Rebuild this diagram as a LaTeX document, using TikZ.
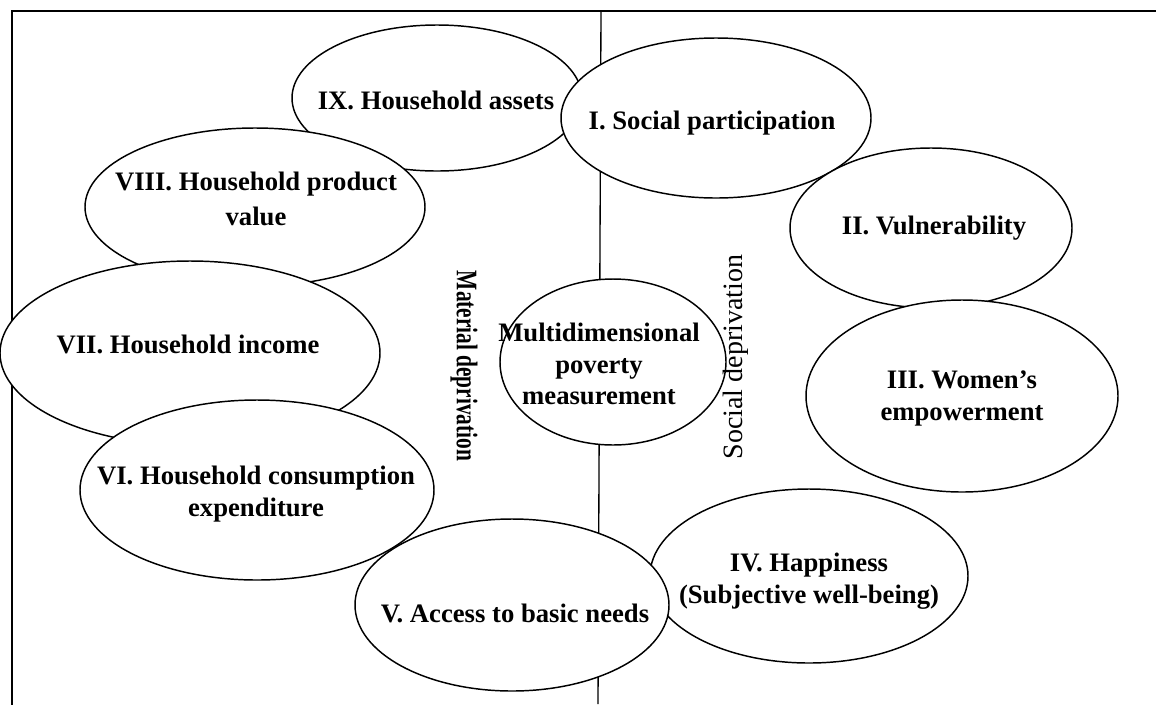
\documentclass[tikz,border=0pt]{standalone}
\usepackage{fontspec}
\setmainfont{Liberation Serif}
\usetikzlibrary{shapes.geometric}
\begin{document}
\begin{tikzpicture}[x=0.75pt,y=-0.75pt,
  dim/.style={ellipse, draw=black, line width=1.1pt, fill=white, inner sep=0pt},
  lbl/.style={align=center, inner sep=0pt, font=\fontsize{20}{24}\selectfont\bfseries},
  frameline/.style={line width=1.8pt, line cap=rect},
  divider/.style={line width=1pt}]
\useasboundingbox (0,0) rectangle (1156,704);

% outer frame (top and left edges)
\coordinate (tl) at (12,11);
\coordinate (tr) at (1156,11);
\coordinate (bl) at (12,704);
\draw[frameline] (tr) -- (tl) -- (bl);

% divider between material and social deprivation
\coordinate (dtop) at (601,11);
\coordinate (dbot) at (598,704);
\draw[divider] (dtop) -- (dbot);

% dimension ellipses, back to front
\node[dim, minimum width=217.5pt, minimum height=109.5pt] (ix) at (437,98) {};
\node[dim, minimum width=232.5pt, minimum height=120pt] (i) at (716,118) {};
\node[dim, minimum width=255pt, minimum height=118.5pt] (viii) at (255,207) {};
\node[dim, minimum width=285pt, minimum height=138pt] (vii) at (190,353) {};
\node[dim, minimum width=265.5pt, minimum height=135pt] (vi) at (257,490) {};
\node[dim, minimum width=211.5pt, minimum height=120pt] (ii) at (931,228) {};
\node[dim, minimum width=234pt, minimum height=144pt] (iii) at (962,396) {};
\node[dim, minimum width=238.5pt, minimum height=130.5pt] (iv) at (809,576) {};
\node[dim, minimum width=235.5pt, minimum height=129pt] (v) at (512,605) {};
\node[dim, minimum width=169.5pt, minimum height=124.5pt] (core) at (613,362) {};

% dimension names
\node[lbl] (ixt) at (436,100) {IX. Household assets};
\node[lbl] (it) at (712,123) {I. Social participation};
\node[lbl, font=\fontsize{20}{26}\selectfont\bfseries] (viiit) at (256,199) {VIII. Household product\\value};
\node[lbl] (viit) at (188,344) {VII. Household income};
\node[lbl] (vit) at (256,494) {VI. Household consumption\\expenditure};
\node[lbl] (iit) at (934,228) {II. Vulnerability};
\node[lbl] (iiit) at (962,398) {III. Women's\\empowerment};
\node[lbl] (ivt) at (809,581) {IV. Happiness\\(Subjective well-being)};
\node[lbl] (vt) at (515,613) {V. Access to basic needs};
\node[lbl, font=\fontsize{20}{23.5}\selectfont\bfseries] (coret) at (599,364) {Multidimensional\\poverty\\measurement};

% group labels
\node[rotate=-90, inner sep=0pt, font=\fontsize{16}{18}\selectfont\bfseries] (mat) at (464,366)
  {\scalebox{1}[1.4]{Material deprivation}};
\node[rotate=90, inner sep=0pt, font=\fontsize{21}{24}\selectfont] (soc) at (736,357) {Social deprivation};
\end{tikzpicture}
\end{document}
